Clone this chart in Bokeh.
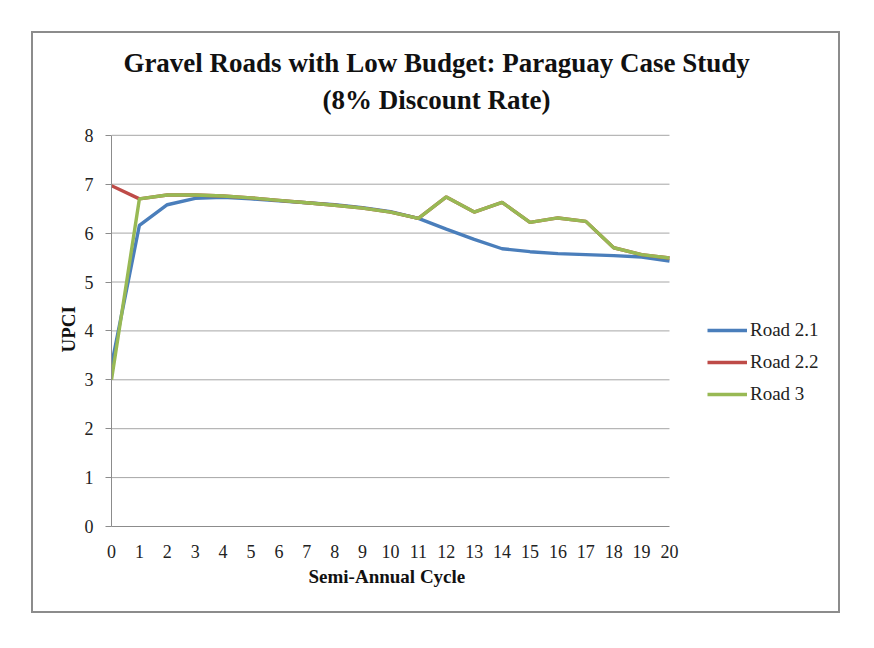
from bokeh.plotting import figure
from bokeh.models import Legend, LegendItem, FixedTicker, Range1d, Title, Label
from bokeh.embed import file_html
from bokeh.resources import INLINE

cycles = list(range(21))
road_2_1 = [3.3, 6.16, 6.58, 6.71, 6.73, 6.70, 6.66, 6.62, 6.58, 6.52, 6.44, 6.30,
            6.08, 5.87, 5.68, 5.62, 5.58, 5.56, 5.54, 5.51, 5.43]
road_2_2 = [6.97, 6.70, 6.78, 6.78, 6.76, 6.72, 6.67, 6.62, 6.57, 6.51, 6.43, 6.30,
            6.74, 6.43, 6.63, 6.22, 6.31, 6.24, 5.70, 5.56, 5.49]
road_3 = [3.0, 6.70, 6.78, 6.78, 6.76, 6.72, 6.67, 6.62, 6.57, 6.51, 6.43, 6.30,
          6.74, 6.43, 6.63, 6.22, 6.31, 6.24, 5.70, 5.56, 5.49]
series_names = ["Road 2.1", "Road 2.2", "Road 3"]
colors = ["#4A7EBB", "#BE4B48", "#98B954"]
title_lines = ["Gravel Roads with Low Budget: Paraguay Case Study", "(8% Discount Rate)"]
x_title = "Semi-Annual Cycle"
y_title = "UPCI"
y_ticks = list(range(0, 9))

SERIF = "Liberation Serif"
X_MIN, X_MAX = cycles[0], cycles[-1]
Y_MIN, Y_MAX = y_ticks[0], y_ticks[-1]

# frame is extended right/up so legend and title (drawn inside it) are not clipped
p = figure(width=809, height=582, output_backend="svg", toolbar_location=None,
           x_range=Range1d(0, 25.95), y_range=Range1d(0, 10.0),
           min_border_left=78, min_border_right=7, min_border_top=4, min_border_bottom=89)
p.styles = {"border": "2px solid #8c8c8c", "margin-left": "31px", "margin-top": "31px"}
p.outline_line_color = None
p.background_fill_color = "white"
p.xgrid.grid_line_color = None
p.ygrid.grid_line_color = None

# horizontal gridlines over the data area
p.segment(x0=[X_MIN] * (len(y_ticks) - 1), x1=[X_MAX] * (len(y_ticks) - 1),
          y0=y_ticks[1:], y1=y_ticks[1:], line_color="#a6a6a6", line_width=1)

p.xaxis.ticker = FixedTicker(ticks=cycles)
p.yaxis.ticker = FixedTicker(ticks=y_ticks)
p.xaxis.bounds = (X_MIN, X_MAX)
p.yaxis.bounds = (Y_MIN, Y_MAX)
for ax in (p.xaxis[0], p.yaxis[0]):
    ax.axis_line_color = "#8c8c8c"
    ax.axis_line_width = 1
    ax.minor_tick_line_color = None
    ax.major_label_text_font = SERIF
    ax.major_label_text_font_size = "18px"
    ax.major_label_text_color = "#222222"
p.xaxis.major_tick_line_color = None
p.xaxis.major_label_standoff = 12
p.yaxis.major_tick_line_color = "#8c8c8c"
p.yaxis.major_tick_out = 6
p.yaxis.major_tick_in = 0
p.yaxis.major_label_standoff = 12

series = [road_2_1, road_2_2, road_3]
renderers = []
for vals, c in zip(series, colors):
    r = p.line(cycles, vals, line_color=c, line_width=3.4)
    renderers.append(r)

legend = Legend(items=[LegendItem(label=n, renderers=[r]) for n, r in zip(series_names, renderers)],
                location=(596, 116), orientation="vertical")
legend.border_line_color = None
legend.background_fill_alpha = 0
legend.label_text_font = SERIF
legend.label_text_font_size = "19px"
legend.label_text_color = "#222222"
legend.glyph_width = 40
legend.glyph_height = 32
legend.label_height = 32
legend.spacing = 0
legend.padding = 0
legend.margin = 0
legend.label_standoff = 3
p.add_layout(legend)

title_y = [9.47, 8.73]
for t, ty in zip(title_lines, title_y):
    p.add_layout(Label(x=11.65, y=ty, text=t, text_align="center", text_baseline="middle",
                       text_font=SERIF, text_font_style="bold", text_font_size="27px",
                       text_color="#111111"))

p.add_layout(Title(text=x_title, align="left", offset=197, text_font=SERIF, text_font_style="bold",
                   text_font_size="19px", text_color="#111111", standoff=6), "below")
p.add_layout(Title(text=y_title, align="left", offset=174, text_font=SERIF, text_font_style="bold",
                   text_font_size="19px", text_color="#111111", standoff=6), "left")

open("out.html", "w").write(file_html(p, INLINE))
